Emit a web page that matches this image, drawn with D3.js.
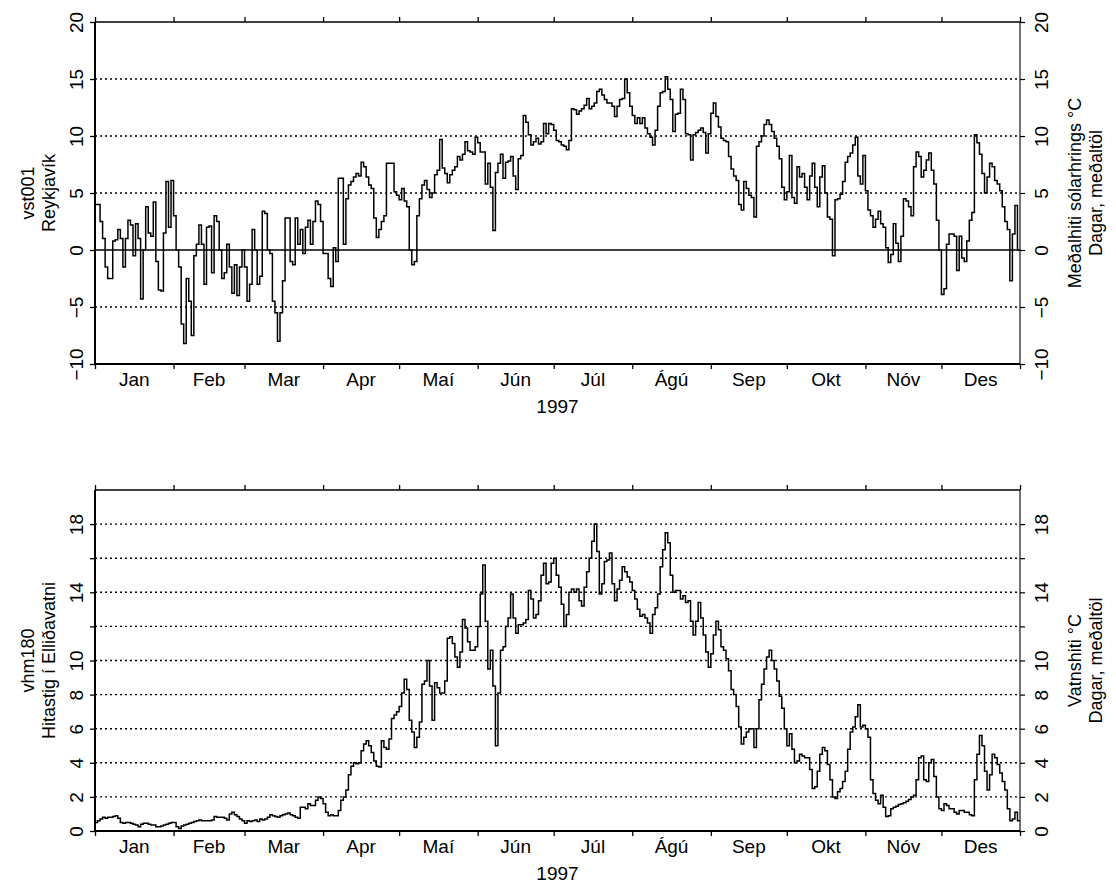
<!DOCTYPE html>
<html>
<head>
<meta charset="utf-8">
<script src="https://d3js.org/d3.v7.min.js"></script>
<style>
  body { margin: 0; background: #fff; }
  svg { display: block; font-family: "Liberation Sans", Arial, Helvetica, sans-serif; }
</style>
</head>
<body>
<div id="chart"></div>
<script>
// calendar for 1997
var monthNames = ["Jan", "Feb", "Mar", "Apr", "Maí", "Jún", "Júl", "Ágú", "Sep", "Okt", "Nóv", "Des"];
var monthStarts = [0, 31, 59, 90, 120, 151, 181, 212, 243, 273, 304, 334, 365];
var yearLabel = "1997";

// vst001 Reykjavík, daily mean air temperature (°C), 1 Jan - 31 Dec
var reykjavik = [
  4.0, 4.0, 2.5, 1.0, -1.5, -2.5, -2.5, 0.8, 0.9, 1.8,
  1.0, -1.5, 1.0, 2.6, 2.2, -0.5, 2.3, 1.0, -4.3, 0.0,
  3.8, 1.5, 1.2, 4.2, -1.0, -3.5, -3.6, 1.5, 6.0, 2.0,
  6.1, 3.0, 0.0, -1.5, -6.5, -8.2, -2.5, -4.5, -7.5, -0.5,
  0.5, 2.2, 0.5, -3.0, 2.0, 2.1, -2.0, 3.0, 2.5, 0.0,
  -2.5, -2.0, 0.5, -1.5, -3.8, -1.3, -4.0, -1.5, 0.0, -1.5,
  -4.5, -3.0, 1.8, 0.0, -3.0, -2.3, 3.4, 3.2, 0.0, -0.3,
  -4.5, -5.5, -8.0, -5.5, -2.7, 2.8, 2.8, -1.0, -1.3, 2.8,
  0.5, 1.8, -0.3, 2.0, 2.6, 0.5, 2.5, 4.3, 4.0, 2.5,
  -0.3, -0.3, -2.5, -3.2, 0.2, -1.0, 6.3, 6.3, 0.5, 4.5,
  5.7, 6.0, 6.4, 6.7, 6.5, 7.7, 7.3, 6.4, 5.7, 5.4,
  2.8, 1.1, 1.8, 2.5, 3.0, 7.6, 7.6, 7.6, 5.1, 4.8,
  4.4, 5.4, 4.3, 3.8, 0.0, -1.3, -1.0, 3.0, 4.5, 5.7,
  6.1, 5.3, 4.6, 5.0, 6.6, 7.0, 9.7, 7.2, 6.7, 5.9,
  6.6, 7.0, 7.3, 8.2, 7.9, 8.4, 9.5, 8.7, 8.6, 8.4,
  9.9, 9.4, 8.6, 8.6, 5.8, 7.6, 5.5, 1.7, 6.8, 7.6,
  8.4, 6.3, 7.7, 7.8, 8.2, 6.5, 5.3, 8.0, 8.3, 11.8,
  11.2, 10.1, 9.2, 9.5, 9.8, 9.3, 9.5, 11.1, 10.2, 11.1,
  11.0, 10.5, 9.6, 9.5, 9.2, 9.1, 8.8, 9.6, 12.4, 12.3,
  11.9, 12.2, 12.4, 12.7, 13.3, 12.4, 12.6, 12.9, 13.9, 14.1,
  13.6, 13.2, 12.9, 12.9, 12.6, 11.7, 12.6, 13.2, 13.3, 15.0,
  13.8, 12.6, 11.8, 11.1, 11.6, 11.1, 11.6, 10.7, 10.2, 9.9,
  9.2, 10.5, 12.6, 13.8, 13.9, 15.2, 14.1, 13.2, 10.4, 11.9,
  12.0, 14.1, 13.2, 10.2, 10.1, 7.9, 10.1, 10.3, 10.5, 10.7,
  10.3, 8.5, 10.2, 12.0, 12.9, 11.7, 10.8, 9.8, 9.6, 9.5,
  8.2, 7.1, 6.5, 6.1, 4.0, 3.5, 6.0, 5.4, 4.8, 4.6,
  2.9, 9.1, 9.5, 10.0, 11.0, 11.4, 11.0, 10.4, 9.8, 9.1,
  8.0, 5.5, 4.4, 5.1, 8.3, 4.6, 4.1, 7.3, 6.4, 6.7,
  5.5, 4.4, 6.5, 7.6, 5.5, 3.8, 6.4, 7.4, 5.0, 2.9,
  2.7, -0.5, 4.4, 4.5, 4.9, 6.0, 7.7, 8.2, 8.5, 9.2,
  9.9, 6.5, 5.8, 8.3, 5.2, 3.5, 3.0, 2.0, 2.7, 3.4,
  2.3, 2.0, 0.2, -1.1, -0.4, 2.3, 0.6, -1.0, 1.2, 4.5,
  4.3, 3.8, 3.0, 7.3, 8.6, 8.2, 6.4, 7.0, 7.9, 8.5,
  7.0, 5.8, 2.6, 0.0, -3.9, -3.4, 0.5, 1.4, 1.4, 1.2,
  -1.8, 1.2, -0.7, -1.0, 0.8, 2.6, 3.3, 10.1, 9.4, 8.4,
  6.7, 5.0, 6.4, 7.6, 7.3, 6.1, 5.8, 5.2, 3.8, 2.5,
  1.8, -2.7, 1.4, 3.9, 0.0
];

// vhm180 Hitastig í Elliðavatni, daily mean water temperature (°C)
var ellidavatn = [
  0.5, 0.6, 0.7, 0.8, 0.75, 0.8, 0.8, 0.85, 0.9, 0.75,
  0.5, 0.45, 0.5, 0.5, 0.45, 0.4, 0.35, 0.25, 0.4, 0.45,
  0.45, 0.4, 0.35, 0.35, 0.25, 0.25, 0.3, 0.35, 0.4, 0.45,
  0.5, 0.5, 0.25, 0.15, 0.3, 0.35, 0.4, 0.45, 0.5, 0.55,
  0.6, 0.65, 0.6, 0.6, 0.6, 0.6, 0.65, 0.85, 0.8, 0.8,
  0.8, 0.75, 0.65, 1.0, 1.1, 0.95, 0.85, 0.7, 0.6, 0.45,
  0.6, 0.55, 0.6, 0.65, 0.55, 0.7, 0.65, 0.7, 0.8, 0.95,
  0.9, 0.85, 0.8, 0.9, 0.95, 1.0, 1.05, 0.95, 0.9, 0.8,
  0.75, 1.4, 1.4, 1.3, 1.6, 1.5, 1.5, 1.8, 2.0, 1.9,
  1.6, 1.1, 0.9, 0.95, 0.9, 0.9, 1.2, 1.8, 2.0, 2.4,
  3.3, 3.8, 4.0, 3.95, 4.0, 4.7, 5.1, 5.3, 5.0, 4.6,
  4.1, 3.8, 3.75, 5.3, 4.9, 4.8, 5.4, 6.6, 6.8, 7.0,
  7.3, 8.1, 8.9, 8.3, 6.5, 5.8, 4.9, 5.5, 6.4, 8.6,
  8.8, 10.0, 8.5, 6.5, 8.7, 8.4, 8.1, 8.1, 8.8, 11.3,
  11.4, 11.0, 10.2, 9.6, 10.5, 12.4, 11.9, 11.1, 10.6, 10.6,
  10.8, 12.0, 13.9, 15.6, 12.3, 9.5, 10.6, 8.5, 5.0, 8.1,
  10.6, 10.8, 12.0, 12.5, 13.9, 12.5, 11.6, 12.1, 12.1, 12.2,
  12.4, 14.1, 13.6, 12.5, 12.7, 13.5, 15.0, 15.7, 14.5, 14.6,
  15.7, 16.0, 15.0, 14.3, 13.3, 12.0, 12.7, 14.0, 14.2, 14.0,
  14.2, 13.5, 13.2, 14.3, 15.2, 16.0, 17.0, 18.0, 16.4, 13.9,
  14.5, 15.8, 15.9, 16.3, 14.5, 13.5, 14.2, 14.7, 15.5, 15.2,
  14.9, 14.6, 14.1, 13.6, 13.0, 12.6, 12.7, 12.5, 12.2, 11.6,
  12.7, 13.1, 13.9, 15.5, 16.5, 17.5, 16.9, 15.0, 14.0, 14.1,
  14.1, 13.6, 13.8, 13.4, 13.5, 12.3, 11.5, 12.3, 13.4, 12.5,
  11.5, 10.5, 9.6, 10.4, 11.5, 12.3, 11.8, 10.8, 10.6, 10.1,
  9.4, 8.3, 8.0, 7.3, 6.1, 5.1, 5.5, 5.8, 6.0, 6.0,
  4.9, 6.0, 7.7, 8.6, 9.5, 10.2, 10.6, 10.0, 9.5, 8.8,
  7.9, 7.2, 6.0, 5.0, 5.7, 4.8, 4.0, 4.1, 4.5, 4.4,
  4.3, 4.3, 3.6, 2.5, 2.6, 3.5, 4.5, 4.9, 4.7, 3.9,
  3.0, 2.0, 1.9, 2.3, 2.5, 2.9, 3.5, 4.8, 5.8, 6.1,
  6.7, 7.4, 6.1, 6.2, 6.0, 5.5, 3.0, 2.2, 1.8, 1.6,
  2.1, 1.4, 0.85, 0.9, 1.3, 1.4, 1.45, 1.55, 1.6, 1.65,
  1.75, 1.85, 2.0, 2.1, 3.0, 4.3, 4.4, 3.0, 2.9, 4.0,
  4.2, 3.2, 2.0, 1.3, 1.2, 1.6, 1.5, 1.3, 1.3, 1.1,
  1.0, 1.2, 1.2, 1.1, 1.1, 0.95, 0.9, 3.0, 4.5, 5.6,
  5.0, 3.5, 2.4, 3.3, 4.5, 4.3, 3.9, 3.4, 2.9, 2.4,
  1.3, 0.6, 0.7, 1.1, 0.6
];

// axis ticks
var topTicks = [-10, -5, 0, 5, 10, 15, 20];
var topTickLabels = [-10, -5, 0, 5, 10, 15, 20];
var topGrid = [-5, 5, 10, 15];
var bottomTicks = [0, 2, 4, 6, 8, 10, 12, 14, 16, 18];
var bottomTickLabels = [0, 2, 4, 6, 8, 10, 14, 18];
var bottomGrid = [2, 4, 6, 8, 10, 12, 14, 16, 18];

var W = 1116, H = 884;
var left = 95, right = 1020;

var svg = d3.select("#chart")
  .append("svg")
  .attr("width", W)
  .attr("height", H);

var x = d3.scaleLinear().domain([0, 365]).range([left, right]);

function drawPanel(p) {
  var g = svg.append("g");
  var y = d3.scaleLinear().domain(p.domain).range([p.bottom, p.top]);

  // dotted grid
  g.selectAll(".grid")
    .data(p.grid)
    .enter()
    .append("line")
    .attr("x1", x(0)).attr("x2", x(365))
    .attr("y1", function (d) { return y(d); })
    .attr("y2", function (d) { return y(d); })
    .attr("stroke", "#000")
    .attr("stroke-width", 1.4)
    .attr("stroke-dasharray", "2,3");

  if (p.zero) {
    g.append("line")
      .attr("x1", x(0)).attr("x2", x(365))
      .attr("y1", y(0)).attr("y2", y(0))
      .attr("stroke", "#000")
      .attr("stroke-width", 1.5);
  }

  // daily values as steps
  var pts = p.values.map(function (v, i) { return { day: i, v: v }; });
  pts.push({ day: 365, v: p.values[p.values.length - 1] });

  var line = d3.line()
    .x(function (d) { return x(d.day); })
    .y(function (d) { return y(d.v); })
    .curve(d3.curveStepAfter);

  g.append("path")
    .datum(pts)
    .attr("fill", "none")
    .attr("stroke", "#000")
    .attr("stroke-width", 1.5)
    .attr("d", line);

  // month ticks top and bottom
  var xTop = d3.axisTop(x).tickValues(monthStarts).tickSize(5).tickFormat("");
  var xBot = d3.axisBottom(x).tickValues(monthStarts).tickSize(5).tickFormat("");
  g.append("g").attr("transform", "translate(0," + p.top + ")").call(xTop)
    .call(function (s) { s.select(".domain").remove(); s.selectAll("line").attr("stroke-width", 1.3); });
  g.append("g").attr("transform", "translate(0," + p.bottom + ")").call(xBot)
    .call(function (s) { s.select(".domain").remove(); s.selectAll("line").attr("stroke-width", 1.3); });

  // y axes, labels turned to read upwards
  var fmt = function (d) { return p.labels.indexOf(d) >= 0 ? d3.format("d")(d) : ""; };
  var yl = d3.axisLeft(y).tickValues(p.ticks).tickSize(5).tickFormat(fmt);
  var yr = d3.axisRight(y).tickValues(p.ticks).tickSize(5).tickFormat(fmt);

  g.append("g").attr("transform", "translate(" + left + ",0)").call(yl)
    .call(function (s) {
      s.select(".domain").remove();
      s.selectAll("line").attr("stroke-width", 1.3);
      s.selectAll("text")
        .attr("x", null).attr("dy", null)
        .attr("transform", "translate(-12,0) rotate(-90)")
        .attr("text-anchor", "middle")
        .attr("font-size", 19)
        .attr("font-family", "Liberation Sans, Arial, sans-serif")
        .attr("fill", "#000");
    });
  g.append("g").attr("transform", "translate(" + right + ",0)").call(yr)
    .call(function (s) {
      s.select(".domain").remove();
      s.selectAll("line").attr("stroke-width", 1.2);
      s.selectAll("text")
        .attr("x", null).attr("dy", null)
        .attr("transform", "translate(28,0) rotate(-90)")
        .attr("text-anchor", "middle")
        .attr("font-size", 19)
        .attr("font-family", "Liberation Sans, Arial, sans-serif")
        .attr("fill", "#000");
    });

  // frame
  g.append("line").attr("x1", left).attr("x2", right).attr("y1", p.top).attr("y2", p.top)
    .attr("stroke", "#000").attr("stroke-width", 1.6);
  g.append("line").attr("x1", left).attr("x2", right).attr("y1", p.bottom).attr("y2", p.bottom)
    .attr("stroke", "#000").attr("stroke-width", 2);
  g.append("line").attr("x1", left).attr("x2", left).attr("y1", p.top).attr("y2", p.bottom)
    .attr("stroke", "#000").attr("stroke-width", 2);
  g.append("line").attr("x1", right).attr("x2", right).attr("y1", p.top).attr("y2", p.bottom)
    .attr("stroke", "#000").attr("stroke-width", 1.1);

  // month labels and year
  g.selectAll(".mon")
    .data(monthNames)
    .enter()
    .append("text")
    .attr("x", function (d, i) { return x((monthStarts[i] + monthStarts[i + 1]) / 2); })
    .attr("y", p.bottom + 22)
    .attr("text-anchor", "middle")
    .attr("font-size", 19)
    .text(function (d) { return d; });

  g.append("text")
    .attr("x", x(182.5))
    .attr("y", p.bottom + 49)
    .attr("text-anchor", "middle")
    .attr("font-size", 19)
    .text(yearLabel);

  // axis titles
  var mid = (p.top + p.bottom) / 2;
  p.leftTitle.forEach(function (t, i) {
    g.append("text")
      .attr("transform", "translate(" + (34 + i * 21) + "," + mid + ") rotate(-90)")
      .attr("text-anchor", "middle")
      .attr("font-size", 18)
      .text(t);
  });
  p.rightTitle.forEach(function (t, i) {
    g.append("text")
      .attr("transform", "translate(" + (1081 + i * 21) + "," + mid + ") rotate(-90)")
      .attr("text-anchor", "middle")
      .attr("font-size", 18)
      .text(t);
  });
}

drawPanel({
  top: 22, bottom: 364, domain: [-10, 20],
  ticks: topTicks, labels: topTickLabels, grid: topGrid, zero: true,
  values: reykjavik,
  leftTitle: ["vst001", "Reykjavík"],
  rightTitle: ["Meðalhiti sólarhrings °C", "Dagar,  meðaltöl"]
});

drawPanel({
  top: 490, bottom: 831, domain: [0, 20],
  ticks: bottomTicks, labels: bottomTickLabels, grid: bottomGrid, zero: false,
  values: ellidavatn,
  leftTitle: ["vhm180", "Hitastig í Elliðavatni"],
  rightTitle: ["Vatnshiti °C", "Dagar,  meðaltöl"]
});
</script>
</body>
</html>
